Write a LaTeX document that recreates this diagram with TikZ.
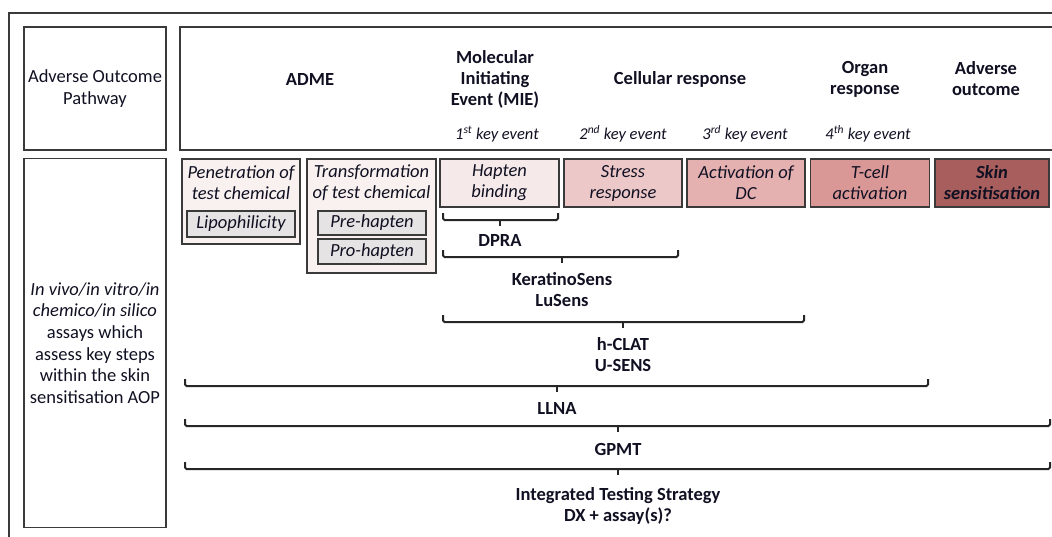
\documentclass[tikz,border=0pt]{standalone}
\usepackage{fontspec}
\setmainfont{Carlito}
\definecolor{txt}{HTML}{101022}
\definecolor{edge}{HTML}{3A3A3A}
\definecolor{admefill}{HTML}{F8F1EF}
\definecolor{greyfill}{HTML}{E5E3E3}
\definecolor{ke1}{HTML}{F5E9E9}
\definecolor{ke2}{HTML}{ECC8C8}
\definecolor{ke3}{HTML}{E4B0B0}
\definecolor{ke4}{HTML}{D99796}
\definecolor{ke5}{HTML}{A85E5C}
\begin{document}
\begin{tikzpicture}[x=1pt,y=-1pt,
  every node/.style={text=txt,inner sep=0pt,outer sep=0pt},
  frame/.style={draw=edge,line width=1.3pt},
  panel/.style={draw=edge,line width=1.2pt,rectangle},
  head/.style={font=\fontsize{18.5}{21}\selectfont\bfseries,align=center},
  plain/.style={font=\fontsize{18.5}{21.5}\selectfont,align=center},
  keyev/.style={font=\fontsize{16.5}{17}\selectfont\itshape},
  evbox/.style={draw=edge,line width=1.2pt,rectangle,minimum height=48pt,
    font=\fontsize{18.5}{21}\selectfont\itshape,align=center},
  outerbox/.style={draw=edge,line width=1.2pt,rectangle,fill=admefill},
  innerbox/.style={draw=edge,line width=1.2pt,rectangle,fill=greyfill,
    font=\fontsize{18.5}{21}\selectfont\itshape},
  boxtext/.style={font=\fontsize{18.5}{21}\selectfont\itshape,align=center},
  brk/.style={draw=black!85,line width=2pt,rounded corners=1.5pt},
  tick/.style={draw=black!85,line width=2pt},
  assay/.style={font=\fontsize{18.5}{21}\selectfont\bfseries,align=center}]
\useasboundingbox (0,0) rectangle (1052,536);
\begin{scope}
\clip (0,0) rectangle (1052,536);
% outer frame (cropped)
\draw[frame] (9,560) -- (9,13) -- (1100,13);
% header panels
\node[panel,minimum width=142pt,minimum height=123pt,plain] (aop) at (95,88.5)
  {Adverse Outcome\\Pathway};
\node[panel,minimum width=890pt,minimum height=123pt] (hdr) at (625,88.5) {};
\node[panel,minimum width=142pt,minimum height=369pt,font=\fontsize{18.5}{21.6}\selectfont,align=center] (assays) at (95,343)
  {\itshape In vivo/in vitro/in\\\itshape chemico/in silico\\assays which\\assess key steps\\within the skin\\sensitisation AOP};
% header texts
\node[head] (adme) at (310,79) {ADME};
\node[head] (mie) at (495,79) {Molecular\\Initiating\\Event (MIE)};
\node[head] (cell) at (680,79) {Cellular response};
\node[head] (organ) at (865,79) {Organ\\response};
\node[head] (adv) at (986,79) {Adverse\\outcome};
\node[keyev] (k1) at (497,134) {1\textsuperscript{st} key event};
\node[keyev] (k2) at (623,134) {2\textsuperscript{nd} key event};
\node[keyev] (k3) at (745,134) {3\textsuperscript{rd} key event};
\node[keyev] (k4) at (868,134) {4\textsuperscript{th} key event};
% ADME boxes
\node[outerbox,minimum width=118pt,minimum height=85pt] (pen) at (241,201.5) {};
\node[boxtext] (pent) at (241,182.5) {Penetration of\\test chemical};
\node[innerbox,minimum width=108pt,minimum height=26pt] (lipo) at (241,224) {Lipophilicity};
\node[outerbox,minimum width=129pt,minimum height=114pt] (trans) at (371.5,216) {};
\node[boxtext] (transt) at (371.5,182.5) {Transformation\\of test chemical};
\node[innerbox,minimum width=108pt,minimum height=24pt] (pre) at (372,223) {Pre-hapten};
\node[innerbox,minimum width=108pt,minimum height=25pt] (pro) at (372,251.5) {Pro-hapten};
% key event boxes
\node[evbox,fill=ke1,minimum width=119pt] (hapten) at (499.5,183) {Hapten\\binding};
\node[evbox,fill=ke2,minimum width=118pt] (stress) at (623,183) {Stress\\response};
\node[evbox,fill=ke3,minimum width=118pt] (dc) at (746,183) {Activation of\\DC};
\node[evbox,fill=ke4,minimum width=119pt] (tcell) at (870,183) {T-cell\\activation};
\node[evbox,fill=ke5,minimum width=114pt,font=\fontsize{18.5}{21}\selectfont\bfseries\itshape] (skin) at (992,183) {Skin\\sensitisation};
% brackets
\coordinate (d1) at (443,220); \coordinate (d2) at (558,220); \coordinate (dm) at (500,220);
\coordinate (e1) at (443,257); \coordinate (e2) at (678,257); \coordinate (em) at (562,257);
\coordinate (h1) at (443,322); \coordinate (h2) at (804,322); \coordinate (hm) at (623,322);
\coordinate (l1) at (185,386); \coordinate (l2) at (928,386); \coordinate (lm) at (557,386);
\coordinate (g1) at (185,426); \coordinate (g2) at (1050,426); \coordinate (gm) at (618,426);
\coordinate (i1) at (185,469); \coordinate (i2) at (1050,469); \coordinate (im) at (618,469);
\foreach \b in {d,e,h,l,g,i}{
  \draw[brk] ([yshift=7pt]\b1) -- (\b1) -- (\b2) -- ([yshift=7pt]\b2);
  \draw[tick] (\b m) -- ([yshift=-6pt]\b m);
}
\node[assay] (dpra) at (500,240) {DPRA};
\node[assay] (kera) at (562,290) {KeratinoSens\\LuSens};
\node[assay] (hclat) at (623,354.5) {h-CLAT\\U-SENS};
\node[assay] (llna) at (557,408) {LLNA};
\node[assay] (gpmt) at (618,449) {GPMT};
\node[assay] (its) at (618,505.5) {Integrated Testing Strategy\\DX + assay(s)?};
\end{scope}
\end{tikzpicture}
\end{document}
